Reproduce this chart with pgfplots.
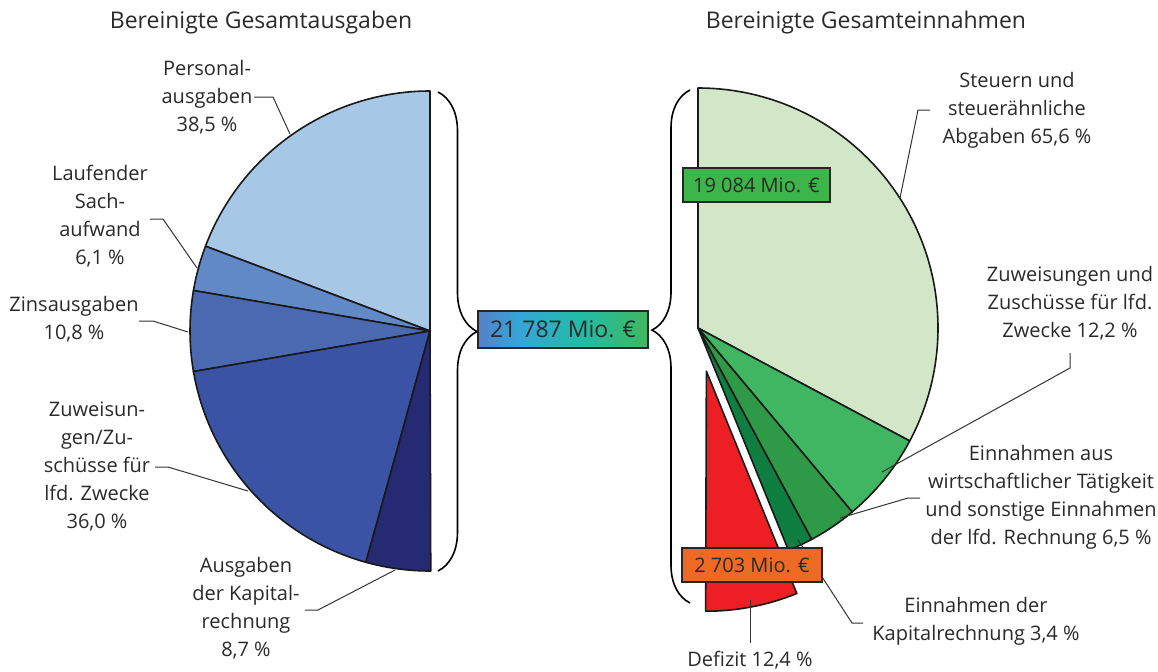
\documentclass[border=0pt]{standalone}
\usepackage{pgfplots}
\pgfplotsset{compat=1.18}
\usepackage{fontspec}
\setmainfont{Open Sans}
\usetikzlibrary{decorations.pathreplacing}
\definecolor{txt}{HTML}{2A2A2A}
\definecolor{lP}{HTML}{A7C7E7}
\definecolor{lS}{HTML}{6189C6}
\definecolor{lZ}{HTML}{4A69B0}
\definecolor{lU}{HTML}{3A53A4}
\definecolor{lK}{HTML}{262A72}
\definecolor{rS}{HTML}{D2E7C8}
\definecolor{rZ}{HTML}{41B662}
\definecolor{rE}{HTML}{2E9A47}
\definecolor{rK}{HTML}{0E7F41}
\definecolor{rD}{HTML}{ED1F24}
\definecolor{bG}{HTML}{3DB54A}
\definecolor{bO}{HTML}{EE6A24}
\definecolor{gA}{HTML}{5580C8}
\definecolor{gB}{HTML}{35A5D8}
\definecolor{gC}{HTML}{22BBA8}
\definecolor{gD}{HTML}{3FB860}
\pgfdeclarehorizontalshading{boxshade}{100bp}{color(0bp)=(gA); color(25bp)=(gA); color(37bp)=(gB); color(55bp)=(gC); color(75bp)=(gD); color(100bp)=(gD)}
\newcommand\slice[5]{\filldraw[fill=#5, draw=black!90, line width=0.8pt, line join=round] (axis cs:#1,#2) -- ++(#3:120pt) arc[start angle=#3, end angle=#4, radius=120pt] -- cycle;}
\newcommand\lbl{\fontsize{10}{14}\selectfont}
\newcommand\ttl{\fontsize{11.5}{14}\selectfont}
\begin{document}
\begin{tikzpicture}
% shares in percent -> angles of the half pies (180 deg = 100 %)
\pgfmathsetmacro\lA{90}
\pgfmathsetmacro\lB{\lA+1.8*38.5}
\pgfmathsetmacro\lC{\lB+1.8*6.1}
\pgfmathsetmacro\lD{\lC+1.8*10.8}
\pgfmathsetmacro\lE{\lD+1.8*36.0}
\pgfmathsetmacro\lF{\lE+1.8*8.7}
\pgfmathsetmacro\rA{90}
\pgfmathsetmacro\rB{\rA-1.8*65.6}
\pgfmathsetmacro\rC{\rB-1.8*12.2}
\pgfmathsetmacro\rD{\rC-1.8*6.5}
\pgfmathsetmacro\rE{\rD-1.8*3.4}
\pgfmathsetmacro\rF{\rE-1.8*12.4}
\pgfmathsetmacro\rM{(\rE+\rF)/2}
\begin{axis}[name=ax, x=0.5pt, y=0.5pt, xmin=0, xmax=1158, ymin=0, ymax=671,
  y dir=reverse, hide axis, clip=false, anchor=south west, at={(0,0)}]
% left half pie
\slice{430}{331}{\lA}{\lB}{lP}
\slice{430}{331}{\lB}{\lC}{lS}
\slice{430}{331}{\lC}{\lD}{lZ}
\slice{430}{331}{\lD}{\lE}{lU}
\slice{430}{331}{\lE}{\lF}{lK}
% right half pie
\slice{698}{328}{\rA}{\rB}{rS}
\slice{698}{328}{\rB}{\rC}{rZ}
\slice{698}{328}{\rC}{\rD}{rE}
\slice{698}{328}{\rD}{\rE}{rK}
\begin{scope}[shift={(\rM:22pt)}]
\slice{698}{328}{\rE}{\rF}{rD}
\end{scope}
% braces
\draw[line width=0.8pt, decorate, decoration={brace, amplitude=19.5pt, aspect=0.5}] (axis cs:438,92) -- (axis cs:438,571);
\draw[line width=0.8pt, decorate, decoration={brace, amplitude=19pt, aspect=0.532}] (axis cs:690,603) -- (axis cs:690,90);
% leader lines
\begin{scope}[line width=0.5pt, draw=black!80]
\draw (axis cs:254,97) -- (axis cs:273,97) -- (axis cs:290,134);
\draw (axis cs:150,219) -- (axis cs:163,219) -- (axis cs:197,268);
\draw (axis cs:139,321) -- (axis cs:153,321) -- (axis cs:188,332);
\draw (axis cs:155,467) -- (axis cs:168,467) -- (axis cs:248,491);
\draw (axis cs:305,610) -- (axis cs:318,610) -- (axis cs:395,570);
\draw (axis cs:930,110) -- (axis cs:918,110) -- (axis cs:900,198);
\draw (axis cs:1070,353) -- (axis cs:1070,368) -- (axis cs:882,472);
\draw (axis cs:920,498) -- (axis cs:908,498) -- (axis cs:840,518);
\draw (axis cs:863,623) -- (axis cs:852,623) -- (axis cs:798,540);
\draw (axis cs:750,600) -- (axis cs:750,643);
\end{scope}
% value boxes
\node[draw=black!85, line width=0.6pt, shading=boxshade, minimum width=85pt, minimum height=18.5pt, inner sep=0pt, text=txt, font=\fontsize{11.5}{14}\selectfont] at (axis cs:563,329.5) {21 787 Mio. €};
\node[draw=black!85, line width=0.6pt, fill=bG, minimum width=73.5pt, minimum height=17pt, inner sep=0pt, text=txt, font=\fontsize{10}{14}\selectfont] at (axis cs:756.5,185) {19 084 Mio. €};
\node[draw=black!85, line width=0.6pt, fill=bO, minimum width=70pt, minimum height=17pt, inner sep=0pt, text=txt, font=\fontsize{10}{14}\selectfont] at (axis cs:752,565) {2 703 Mio. €};
% titles
\node[text=txt, font=\ttl] at (axis cs:261,23) {Bereinigte Gesamtausgaben};
\node[text=txt, font=\ttl] at (axis cs:866,23) {Bereinigte Gesamteinnahmen};
% labels
\begin{scope}[every node/.style={text=txt, font=\lbl, align=center, inner sep=0pt}]
\node at (axis cs:207,97) {Personal-\\ausgaben\\38,5 \%};
\node at (axis cs:100,216) {Laufender\\Sach-\\aufwand\\6,1 \%};
\node at (axis cs:74,319) {Zinsausgaben\\10,8 \%};
\node at (axis cs:97,466) {Zuweisun-\\gen/Zu-\\schüsse für\\lfd. Zwecke\\36,0 \%};
\node at (axis cs:246,608) {Ausgaben\\der Kapital-\\rechnung\\8,7 \%};
\node at (axis cs:1017,110) {Steuern und\\steuerähnliche\\Abgaben 65,6 \%};
\node at (axis cs:1070,303) {Zuweisungen und\\Zuschüsse für lfd.\\Zwecke 12,2 \%};
\node at (axis cs:1041,497.5) {Einnahmen aus\\wirtschaftlicher Tätigkeit\\und sonstige Einnahmen\\der lfd. Rechnung 6,5 \%};
\node at (axis cs:976,621.5) {Einnahmen der\\Kapitalrechnung 3,4 \%};
\node at (axis cs:750,660) {Defizit 12,4 \%};
\end{scope}
\end{axis}
\pgfresetboundingbox
\useasboundingbox (ax.south west) rectangle (ax.north east);
\end{tikzpicture}
\end{document}
